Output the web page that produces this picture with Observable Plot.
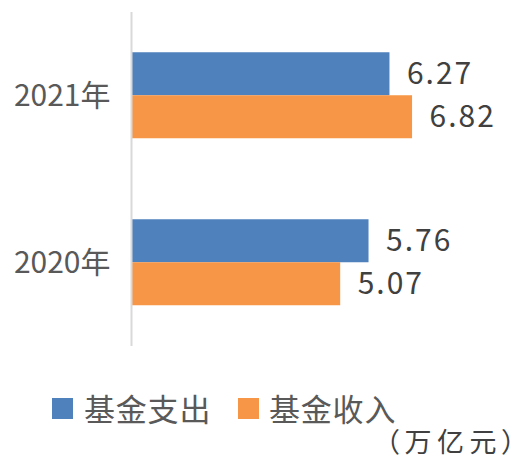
<!DOCTYPE html>
<html><head><meta charset="utf-8">
<script src="https://cdn.jsdelivr.net/npm/d3@7"></script>
<script src="https://cdn.jsdelivr.net/npm/@observablehq/plot@0.6"></script>
<style>
body{margin:0;background:#fff;width:521px;height:461px;overflow:hidden;position:relative;font-family:"Noto Sans CJK SC","Noto Sans",sans-serif;}
#chart{position:absolute;left:0;top:0;}
.sw{position:absolute;width:21px;height:21px;}
.lt{position:absolute;font-size:31px;line-height:1;color:#595959;white-space:nowrap;letter-spacing:0.8px;}
#unit{position:absolute;font-size:27px;line-height:1;color:#404040;white-space:nowrap;letter-spacing:5.5px;font-feature-settings:"palt" 1;}
</style></head><body>
<div id="chart"></div>
<div id="legend"></div>
<div id="unit"></div>
<script>
const years = ["2021年", "2020年"];
const seriesNames = ["基金支出", "基金收入"];
const expenditure = [6.27, 5.76];
const income = [6.82, 5.07];
const unitLabel = "（万亿元）";
const colors = ["#4F81BD", "#F79646"];

const data = years.flatMap((y, i) => [
  {year: y, series: seriesNames[0], value: expenditure[i]},
  {year: y, series: seriesNames[1], value: income[i]}
]);

const plot = Plot.plot({
  width: 521, height: 360,
  marginLeft: 132, marginRight: 60.5, marginTop: 11.75, marginBottom: 13.25,
  style: {fontFamily: '"Noto Sans CJK SC","Noto Sans",sans-serif', background: "white"},
  x: {domain: [0, 8], axis: null},
  fy: {domain: years, padding: 0, label: null},
  y: {domain: seriesNames, paddingInner: 0, paddingOuter: 0.925, axis: null},
  color: {domain: seriesNames, range: colors},
  marks: [
    Plot.barX(data, {x: "value", y: "series", fy: "year", fill: "series"}),
    Plot.ruleX([0], {stroke: "#D9D9D9", strokeWidth: 2, dx: -1}),
    Plot.text(data, {x: "value", y: "series", fy: "year", text: d => d.value.toFixed(2),
      textAnchor: "start", dx: 17, fontSize: 30, fill: "#404040"}),
    Plot.axisFy({anchor: "left", tickSize: 0, tickPadding: 22, fontSize: 30, fill: "#595959", label: null})
  ]
});
document.getElementById("chart").appendChild(plot);
d3.select(plot).selectAll('g[aria-label="text"] text').style("letter-spacing", "2px");

const legend = document.getElementById("legend");
const swX = [52, 238], txX = [84, 269];
seriesNames.forEach((s, i) => {
  const sw = document.createElement("div");
  sw.className = "sw"; sw.style.left = swX[i] + "px"; sw.style.top = "398px"; sw.style.background = colors[i];
  legend.appendChild(sw);
  const t = document.createElement("div");
  t.className = "lt"; t.textContent = s; t.style.left = txX[i] + "px"; t.style.top = "392px";
  legend.appendChild(t);
});
const u = document.getElementById("unit");
u.textContent = unitLabel; u.style.right = "0px"; u.style.top = "427px";
</script>
</body></html>
